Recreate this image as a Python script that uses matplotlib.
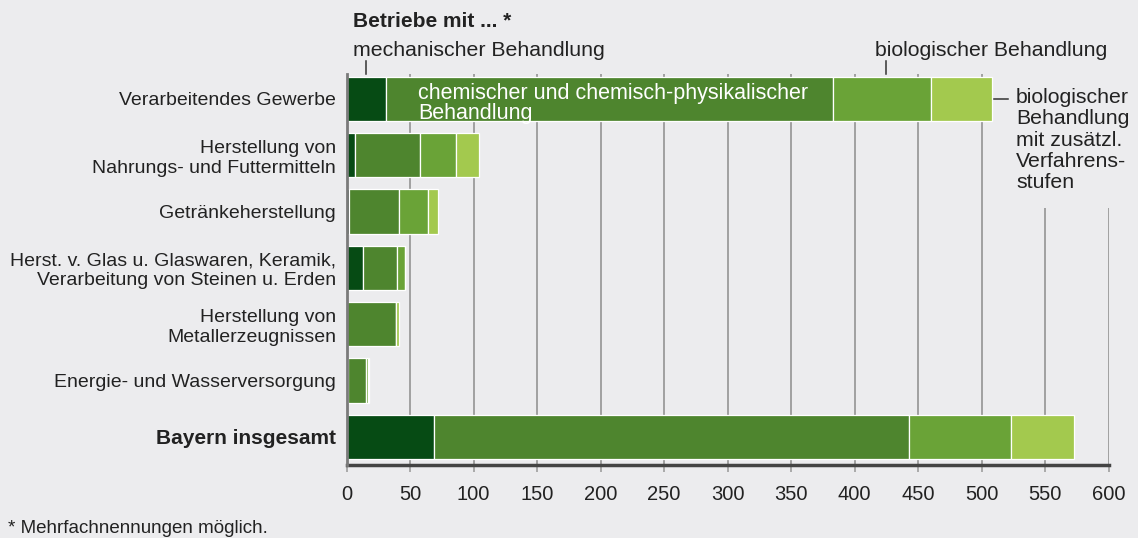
import matplotlib.pyplot as plt
import matplotlib.transforms as mtransforms

plt.rcParams['font.family'] = ['Liberation Sans', 'DejaVu Sans']

categories = ["Verarbeitendes Gewerbe",
              "Herstellung von\nNahrungs- und Futtermitteln",
              "Getränkeherstellung",
              "Herst. v. Glas u. Glaswaren, Keramik,\nVerarbeitung von Steinen u. Erden",
              "Herstellung von\nMetallerzeugnissen",
              "Energie- und Wasserversorgung",
              "Bayern insgesamt"]
mech = [31, 7, 2, 13, 0, 1, 69]
chem = [352, 51, 39, 27, 39, 14, 374]
bio = [77, 28, 23, 6, 0, 2, 80]
bio_plus = [48, 18, 8, 0, 2, 1, 50]
xticks = [0, 50, 100, 150, 200, 250, 300, 350, 400, 450, 500, 550, 600]

W, H = 1138, 538
bg = '#ececee'
colors = ['#064b14', '#4e852e', '#6aa337', '#a3c94e']
txt = '#222222'

fig = plt.figure(figsize=(W / 100, H / 100), dpi=100, facecolor=bg)
ax = fig.add_axes([346.5 / W, (H - 465) / H, 762 / W, (465 - 74) / H])
ax.set_facecolor(bg)

y = list(range(len(categories)))
left = [0] * len(y)
for vals, c in zip([mech, chem, bio, bio_plus], colors):
    ax.barh(y, vals, left=left, height=0.787, color=c, edgecolor='white',
            linewidth=0.9, zorder=3)
    left = [l + v for l, v in zip(left, vals)]

ax.set_xlim(0, 600)
ax.set_ylim(6.503, -0.44)
ax.set_xticks(xticks)
ax.set_xticklabels([str(t) for t in xticks], fontsize=14.5, color=txt)
ax.set_yticks(y)
ax.set_yticklabels(categories, fontsize=14, color=txt)
last = ax.get_yticklabels()[-1]
last.set_fontweight('bold')
last.set_fontsize(15)
ax.tick_params(axis='y', length=0, pad=7.5)
ax.tick_params(axis='x', length=5, width=1.2, color='#9e9e9e', pad=9.5)

ax.grid(axis='x', color='#a0a0a0', linewidth=1.4, zorder=1)
ax.grid(axis='y', visible=False)
for s in ['top', 'right']:
    ax.spines[s].set_visible(False)
ax.spines['left'].set_color('#7a7a7a')
ax.spines['left'].set_linewidth(2)
ax.spines['left'].set_zorder(4)
ax.spines['bottom'].set_color('#444444')
ax.spines['bottom'].set_linewidth(2.5)

# small pointer lines above first bar
trans = mtransforms.blended_transform_factory(ax.transData, ax.transAxes)
mech_mid = mech[0] / 2
bio_mid = mech[0] + chem[0] + bio[0] / 2 + 3
for xm in [mech_mid, bio_mid]:
    ax.plot([xm, xm], [1.0, 1.033], transform=trans, color='#333333',
            linewidth=1.1, clip_on=False)
total0 = mech[0] + chem[0] + bio[0] + bio_plus[0]
ax.plot([total0 + 1.5, total0 + 13], [0, 0], color='#333333', linewidth=1.1,
        zorder=6, clip_on=False)


def ftext(x, yy, s, **kw):
    return fig.text(x / W, 1 - yy / H, s, **kw)


ftext(353, 27, "Betriebe mit ... *", fontsize=15, fontweight='bold', color=txt,
      va='baseline')
ftext(353, 56, "mechanischer Behandlung", fontsize=15.3, color=txt, va='baseline')
ftext(875, 56, "biologischer Behandlung", fontsize=15.3, color=txt, va='baseline')
ftext(418, 83, "chemischer und chemisch-physikalischer\nBehandlung", fontsize=15.5,
      color='white', va='top', linespacing=0.95, zorder=7)
# right note drawn inside the axes so the pointer line stays on top of its box
ax.text(1016 / W, 1 - 88 / H,
        "biologischer\nBehandlung\nmit zusätzl.\nVerfahrens-\nstufen",
        transform=fig.transFigure, fontsize=15.3, color=txt, va='top',
        linespacing=1.15, zorder=5, clip_on=False,
        bbox=dict(boxstyle='square,pad=0.75', facecolor=bg, edgecolor='none'))
ftext(8, 533, "* Mehrfachnennungen möglich.", fontsize=13.5, color=txt, va='baseline')

fig.savefig('out.png', dpi=100, facecolor=bg)
